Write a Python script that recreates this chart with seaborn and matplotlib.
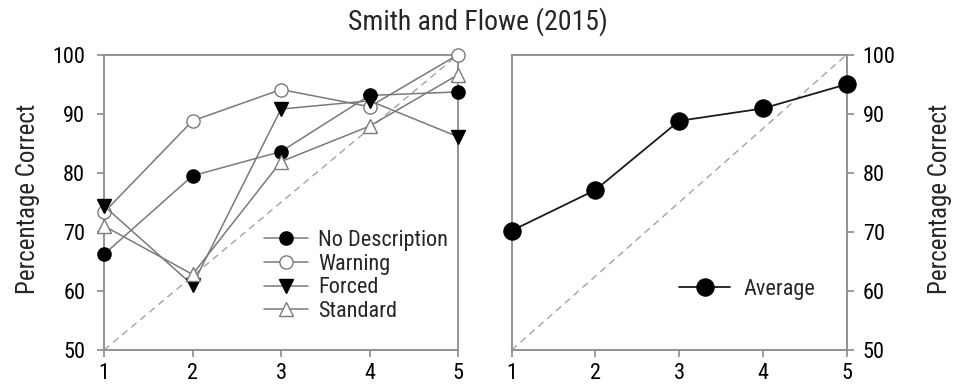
import matplotlib
matplotlib.use("Agg")
import matplotlib.pyplot as plt
import seaborn as sns
import pandas as pd

sns.set_theme(style="white")
plt.rcParams['font.family'] = ['Roboto Condensed', 'Liberation Sans', 'DejaVu Sans']

confidence = [1, 2, 3, 4, 5]
no_description = [66.2, 79.5, 83.6, 93.1, 93.7]
warning = [73.3, 88.8, 94.1, 91.2, 100.0]
forced = [74.4, 61.0, 90.8, 92.2, 86.1]
standard = [71.0, 62.8, 81.9, 87.9, 96.6]
average = [70.2, 77.1, 88.8, 90.9, 95.0]
yticks = [50, 60, 70, 80, 90, 100]

FS = 16
GREY = "#7a7a7a"
SPINE = "#8a8a8a"
W, H = 956, 388

fig = plt.figure(figsize=(W / 100, H / 100), dpi=100)
axL = fig.add_axes([104 / W, 1 - 350 / H, 354 / W, 295.3 / H])
axR = fig.add_axes([511.7 / W, 1 - 350 / H, 335 / W, 295.3 / H])

series = [
    ("No Description", no_description, dict(marker="o", markersize=9.5, markerfacecolor="black", markeredgecolor="black")),
    ("Warning", warning, dict(marker="o", markersize=9.5, markerfacecolor="white", markeredgecolor=GREY)),
    ("Forced", forced, dict(marker="v", markersize=9.5, markerfacecolor="black", markeredgecolor="black")),
    ("Standard", standard, dict(marker="^", markersize=9.5, markerfacecolor="white", markeredgecolor=GREY)),
]

# chance diagonal
for ax in (axL, axR):
    ax.plot([1, 5], [50, 100], ls=(0, (5, 3.5)), color="#a3a3a3", lw=1.0, zorder=1)

for name, vals, mk in series:
    df = pd.DataFrame({"x": confidence, "y": vals})
    sns.lineplot(data=df, x="x", y="y", ax=axL, color=GREY, lw=1.1,
                 label=name, markeredgewidth=1.0, zorder=3, clip_on=False, **mk)

dfa = pd.DataFrame({"x": confidence, "y": average})
sns.lineplot(data=dfa, x="x", y="y", ax=axR, color="#1a1a1a", lw=1.3, marker="o",
             markersize=12.5, markerfacecolor="black", markeredgecolor="black",
             label="Average", zorder=3, clip_on=False)

for ax in (axL, axR):
    ax.set_xlim(1, 5)
    ax.set_ylim(50, 100)
    ax.set_xticks(confidence)
    ax.set_yticks(yticks)
    ax.set_yticklabels([str(t) for t in yticks])
    ax.set_xlabel("")
    ax.set_ylabel("")
    for s in ax.spines.values():
        s.set_color(SPINE)
        s.set_linewidth(1.3)
    ax.tick_params(axis="both", which="both", direction="out", length=5, width=1.2,
                   color=SPINE, labelsize=FS, labelcolor="black")
    ax.tick_params(axis="x", bottom=True, pad=4.5)

axL.yaxis.tick_left()
axL.tick_params(axis="y", left=True, pad=8.5)

axR.yaxis.tick_right()
axR.tick_params(axis="y", left=False, right=True, pad=6.5)

fig.text(28 / W, 1 - 199 / H, "Percentage Correct", rotation=90, ha="center", va="center", fontsize=18)
fig.text(940 / W, 1 - 199 / H, "Percentage Correct", rotation=90, ha="center", va="center", fontsize=18)

axL.legend(loc="upper left", bbox_to_anchor=(264 / W, 1 - 230 / H), bbox_transform=fig.transFigure,
           frameon=False, fontsize=FS, handlelength=2.0, handletextpad=0.45,
           labelspacing=0.12, borderpad=0, borderaxespad=0)
axR.legend(loc="upper left", bbox_to_anchor=(679 / W, 1 - 279 / H), bbox_transform=fig.transFigure,
           frameon=False, fontsize=FS, handlelength=2.3, handletextpad=0.6,
           borderpad=0, borderaxespad=0)

fig.text(0.5, 1 - 22 / H, "Smith and Flowe (2015)", ha="center", va="center", fontsize=20)

fig.savefig("out.png", dpi=100)
